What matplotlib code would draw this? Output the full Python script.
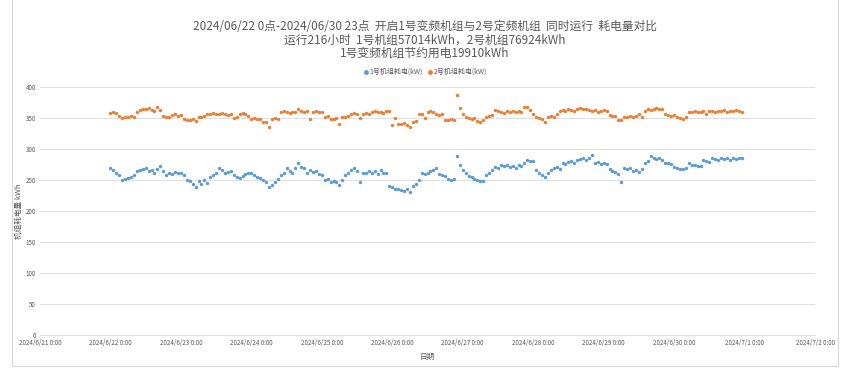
import numpy as np
import pandas as pd
import matplotlib
matplotlib.use('Agg')
import matplotlib.pyplot as plt
from matplotlib.lines import Line2D

plt.rcParams['font.family'] = ['Noto Sans CJK SC', 'DejaVu Sans']

# hourly power draw, 2024/06/22 0:00 .. 2024/06/30 23:00 (216 h)
unit1_kw = [
    269, 266, 262, 258, 250, 252, 253, 255, 258, 265, 266, 268, 270, 265, 266, 262, 268, 272, 264, 258, 262, 260, 263, 262,
    262, 258, 250, 248, 244, 238, 248, 243, 250, 245, 255, 258, 262, 270, 266, 262, 263, 265, 258, 255, 254, 256, 260, 261,
    262, 258, 255, 254, 250, 247, 239, 242, 247, 252, 258, 262, 269, 265, 261, 270, 277, 271, 269, 261, 266, 263, 264, 260,
    258, 250, 252, 247, 248, 246, 242, 250, 258, 262, 266, 269, 264, 247, 261, 262, 265, 262, 264, 260, 266, 262, 261, 240,
    238, 236, 235, 234, 233, 235, 231, 240, 243, 250, 262, 260, 262, 265, 266, 269, 260, 258, 256, 252, 250, 251, 288, 274,
    266, 262, 256, 255, 252, 250, 248, 249, 258, 262, 266, 271, 270, 274, 272, 275, 271, 273, 270, 274, 272, 277, 282, 281,
    280, 266, 262, 258, 255, 261, 266, 269, 271, 268, 277, 276, 279, 280, 278, 282, 284, 285, 283, 286, 290, 277, 279, 276,
    278, 276, 268, 265, 263, 260, 246, 269, 268, 270, 265, 266, 263, 268, 278, 281, 288, 285, 284, 286, 283, 278, 277, 276,
    271, 270, 268, 268, 270, 277, 274, 275, 273, 272, 282, 280, 279, 285, 284, 283, 286, 284, 285, 283, 286, 284, 285, 286,
]
unit2_kw = [
    358, 359, 358, 353, 350, 351, 352, 354, 352, 360, 363, 364, 365, 366, 363, 362, 368, 363, 353, 351, 352, 355, 356, 354,
    355, 349, 347, 346, 348, 345, 352, 351, 353, 356, 357, 358, 357, 356, 358, 357, 355, 356, 350, 351, 356, 358, 357, 354,
    349, 350, 349, 348, 344, 343, 335, 349, 350, 348, 359, 361, 360, 358, 359, 360, 364, 362, 360, 361, 349, 359, 361, 360,
    360, 352, 353, 349, 348, 350, 341, 352, 351, 353, 357, 358, 357, 350, 357, 358, 356, 360, 361, 359, 360, 358, 362, 361,
    339, 350, 341, 340, 342, 338, 336, 344, 345, 356, 357, 350, 360, 361, 359, 357, 355, 356, 347, 346, 348, 347, 387, 366,
    357, 352, 350, 349, 350, 345, 344, 346, 352, 353, 355, 363, 362, 360, 358, 361, 359, 362, 360, 361, 359, 368, 367, 363,
    357, 351, 350, 349, 344, 352, 353, 351, 357, 362, 363, 361, 364, 363, 362, 365, 366, 364, 365, 363, 362, 363, 360, 361,
    363, 362, 355, 354, 353, 347, 346, 352, 351, 353, 352, 354, 357, 352, 362, 364, 363, 365, 366, 364, 365, 357, 355, 354,
    355, 352, 350, 349, 351, 360, 359, 361, 360, 359, 361, 357, 361, 362, 360, 362, 361, 363, 360, 362, 361, 363, 362, 360,
]
hours = pd.date_range('2024-06-22 00:00', periods=len(unit1_kw), freq='h')
days = pd.date_range('2024-06-21', '2024-07-02', freq='D')

title_lines = [
    '2024/06/22 0点-2024/06/30 23点  开启1号变频机组与2号定频机组  同时运行  耗电量对比',
    '运行216小时  1号机组57014kWh，2号机组76924kWh',
    '1号变频机组节约用电19910kWh',
]
series_names = ['1号机组耗电(kW)', '2号机组耗电(kW)']
BLUE = '#5B9BD5'
ORANGE = '#ED7D31'
GREY = '#595959'

fig = plt.figure(figsize=(8.5, 3.78), dpi=100)
ax = fig.add_axes([40 / 850, 1 - 335 / 378, 775 / 850, 248 / 378])

ax.scatter(hours, unit1_kw, s=6, color=BLUE, linewidths=0, zorder=3)
ax.scatter(hours, unit2_kw, s=6, color=ORANGE, linewidths=0, zorder=3)

ax.set_xlim(days[0], days[-1])
ax.set_ylim(0, 400)
ax.set_yticks(range(0, 401, 50))
ax.set_xticks(days)
ax.set_xticklabels([f'2024/{d.month}/{d.day} 0:00' for d in days])
ax.tick_params(axis='both', length=0, labelsize=4.5, labelcolor=GREY, pad=3)
ax.grid(axis='y', color='#D9D9D9', linewidth=0.6)
for side in ['top', 'right', 'left']:
    ax.spines[side].set_visible(False)
ax.spines['bottom'].set_color('#D9D9D9')
ax.spines['bottom'].set_linewidth(0.6)

ax.set_xlabel('日期', fontsize=5.5, color=GREY, labelpad=4)
ax.set_ylabel('机组耗电量 kWh', fontsize=5.5, color=GREY, labelpad=2)

for i, line in enumerate(title_lines):
    fig.text(0.5, 1 - (27 + 13 * i) / 378, line, ha='center', va='center', fontsize=8.5, color=GREY)

handles = [Line2D([], [], marker='o', linestyle='', markersize=2.5, color=c) for c in (BLUE, ORANGE)]
fig.legend(handles, series_names, loc='center', bbox_to_anchor=(0.5, 1 - 72 / 378), ncol=2,
           frameon=False, fontsize=5, labelcolor=GREY, handletextpad=0.1, columnspacing=0.6,
           handlelength=0.8)

# light outer frame of the chart area
frame = plt.Rectangle((12 / 850, 1 - 366 / 378), 826 / 850, 366 / 378 + 0.02, transform=fig.transFigure,
                      fill=False, edgecolor='#D9D9D9', linewidth=0.8)
fig.patches.append(frame)

fig.savefig('out.png', dpi=100, facecolor='white')
